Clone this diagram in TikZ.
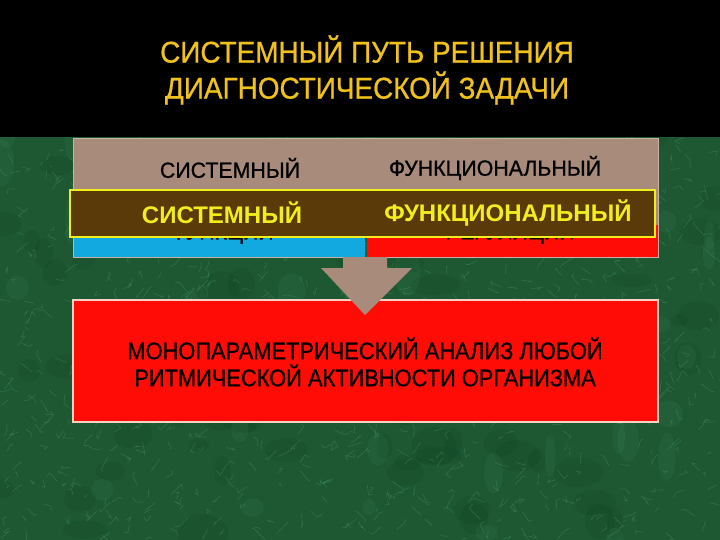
\documentclass[tikz,border=0pt]{standalone}
\usepackage{fontspec}
\setmainfont{Liberation Sans}
\newfontfamily\titlefont[FakeStretch=0.93,FakeBold=0.7]{Liberation Sans}
\newfontfamily\narrowfont[FakeStretch=0.91,FakeBold=0.8]{Liberation Sans}
\newfontfamily\panelfont[FakeStretch=0.97,FakeBold=0.8]{Liberation Sans}
\definecolor{bggreen}{HTML}{1D5832}
\definecolor{veingreen}{HTML}{55A070}
\definecolor{darkvein}{HTML}{0F3F20}
\definecolor{titlegold}{HTML}{F2C21C}
\definecolor{tanc}{HTML}{A88B7A}
\definecolor{tanedge}{HTML}{C9B2A4}
\definecolor{brownc}{HTML}{5B3A0A}
\definecolor{yellowc}{HTML}{F2EE1E}
\definecolor{bluec}{HTML}{12A8E0}
\definecolor{redc}{HTML}{FF0C06}
\definecolor{rededge}{HTML}{F6D2C2}
\tikzset{
  panel/.style={anchor=north west, inner sep=0pt, outer sep=0pt},
  blacktext/.style={text=black, font=\panelfont\fontsize{22}{26}\selectfont},
  yellowtext/.style={text=yellowc, font=\bfseries\fontsize{24}{28}\selectfont},
  bigtext/.style={text=black, align=center, font=\narrowfont\fontsize{24}{27}\selectfont},
  titletext/.style={text=titlegold, align=center, font=\titlefont\fontsize{30}{36}\selectfont},
}
\begin{document}
\begin{tikzpicture}[x=1pt,y=-1pt]
\useasboundingbox (0,0) rectangle (720,540);
% background
\fill[bggreen] (0,137) rectangle (720,540);
\pgfmathsetseed{11}
\foreach \i in {1,...,90} {
  \pgfmathsetmacro\xa{rnd*720}
  \pgfmathsetmacro\ya{137+rnd*403}
  \fill[darkvein, opacity=0.18] (\xa,\ya) ellipse ({8+rnd*18} and {6+rnd*14});
}
\foreach \i in {1,...,50} {
  \pgfmathsetmacro\xa{rnd*720}
  \pgfmathsetmacro\ya{137+rnd*403}
  \fill[veingreen, opacity=0.1] (\xa,\ya) ellipse ({5+rnd*10} and {8+rnd*16});
}
\foreach \i in {1,...,900} {
  \pgfmathsetmacro\xa{rnd*720}
  \pgfmathsetmacro\ya{137+rnd*403}
  \pgfmathsetmacro\dx{(rnd-0.5)*22}
  \pgfmathsetmacro\dy{(rnd-0.5)*22}
  \draw[veingreen, opacity=0.35, line width=0.6pt] (\xa,\ya) -- ++(\dx,\dy) -- ++(rnd*10-5,rnd*10-5);
}
\fill[black] (0,0) rectangle (720,137);
% title
\node[titletext] (title) at (367,70) {СИСТЕМНЫЙ ПУТЬ РЕШЕНИЯ\\ДИАГНОСТИЧЕСКОЙ ЗАДАЧИ};
% upper panel
\node[panel, fill=tanc, draw=tanedge, line width=0.8pt, minimum width=585pt, minimum height=87pt] (tan) at (73,138) {};
\node[panel, fill=bluec, minimum width=292pt, minimum height=32pt] (blue) at (73,225) {};
\node[panel, fill=redc, minimum width=291pt, minimum height=32pt] (redsmall) at (367,225) {};
\draw[tanedge, line width=0.8pt] (blue.north west) -- (blue.south west) -- (redsmall.south east) -- (redsmall.north east);
\node[blacktext] (sys1) at (230,168) {СИСТЕМНЫЙ};
\node[blacktext] (fun1) at (495,168) {ФУНКЦИОНАЛЬНЫЙ};
\node[blacktext] (fun2) at (222,234) {ФУНКЦИИ};
\node[blacktext] (reg2) at (510,234) {РЕГУЛЯЦИИ};
% overlay band
\node[panel, fill=brownc, draw=yellowc, line width=2.5pt, minimum width=585pt, minimum height=47pt] (band) at (70,190) {};
\node[yellowtext] (sys2) at (222,213) {СИСТЕМНЫЙ};
\node[yellowtext] (fun3) at (508,213) {ФУНКЦИОНАЛЬНЫЙ};
% lower panel
\node[panel, fill=redc, draw=rededge, line width=1.5pt, minimum width=585pt, minimum height=122pt] (bottom) at (73,300) {};
\node[bigtext] (mono) at (365,362) {МОНОПАРАМЕТРИЧЕСКИЙ АНАЛИЗ ЛЮБОЙ\\РИТМИЧЕСКОЙ АКТИВНОСТИ ОРГАНИЗМА};
% arrow
\coordinate (atop) at (365,257);
\coordinate (atip) at (365,315);
\fill[tanc] ([xshift=-22pt]atop) -- ([xshift=22pt]atop) -- ([xshift=22pt,yshift=-11pt]atop)
  -- ([xshift=47pt,yshift=-11pt]atop) -- (atip) -- ([xshift=-44pt,yshift=-11pt]atop)
  -- ([xshift=-22pt,yshift=-11pt]atop) -- cycle;
\end{tikzpicture}
\end{document}
